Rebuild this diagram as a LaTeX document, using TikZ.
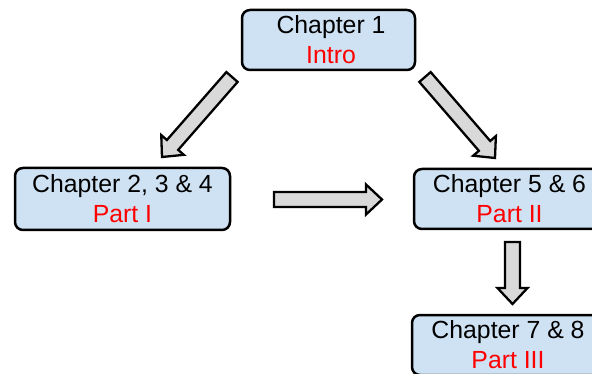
\documentclass[tikz,border=0pt]{standalone}
\usepackage{fontspec}
\setmainfont{Liberation Sans}
\usetikzlibrary{calc}

\definecolor{boxfill}{RGB}{207,226,243}
\definecolor{arrowfill}{RGB}{217,217,217}
\definecolor{partred}{RGB}{255,0,0}

\tikzset{
  chapbox/.style={draw=black, line width=2.5pt, rounded corners=8pt,
    fill=boxfill, align=center, inner sep=0pt, minimum height=60pt,
    font=\fontsize{24.8}{30}\selectfont},
  blockarrow/.style={draw=black, line width=2.3pt, fill=arrowfill,
    line join=miter},
}

% Block arrow from #1 (tail centre) to #2 (tip)
\newcommand\fatarrow[2]{%
  \coordinate (hb) at ($(#2)!16pt!(#1)$);
  \draw[blockarrow]
    ($(#1)!7.5pt!90:(#2)$) -- ($(hb)!7.5pt!90:(#2)$) --
    ($(hb)!15pt!90:(#2)$) -- (#2) -- ($(hb)!15pt!-90:(#2)$) --
    ($(hb)!7.5pt!-90:(#2)$) -- ($(#1)!7.5pt!-90:(#2)$) -- cycle;}

\begin{document}
\begin{tikzpicture}[x=1pt, y=-1pt]
  \useasboundingbox (0,0) rectangle (592,374);
  \clip (0,0) rectangle (592,374);

  \node[chapbox, minimum width=173pt] (intro) at (328.5,40)
    {\hspace*{5pt}Chapter 1\\\hspace*{5pt}\textcolor{partred}{Intro}};
  \node[chapbox, minimum width=215pt, minimum height=62pt] (p1) at (122.5,199)
    {Chapter 2, 3 \& 4\\\textcolor{partred}{Part I}};
  \node[chapbox, minimum width=191pt] (p2) at (509.5,199)
    {Chapter 5 \& 6\\\textcolor{partred}{Part II}};
  \node[chapbox, minimum width=192pt] (p3) at (508,345)
    {Chapter 7 \& 8\\\textcolor{partred}{Part III}};

  % arrow end points
  \coordinate (a1s) at (232,77);    \coordinate (a1e) at (162,157);
  \coordinate (a2s) at (425,77);    \coordinate (a2e) at (495,158);
  \coordinate (a3s) at (274,199.5); \coordinate (a3e) at (382,199.5);
  \coordinate (a4s) at (512.5,242); \coordinate (a4e) at (512.5,304);

  \fatarrow{a1s}{a1e}
  \fatarrow{a2s}{a2e}
  \fatarrow{a3s}{a3e}
  \fatarrow{a4s}{a4e}
\end{tikzpicture}
\end{document}
